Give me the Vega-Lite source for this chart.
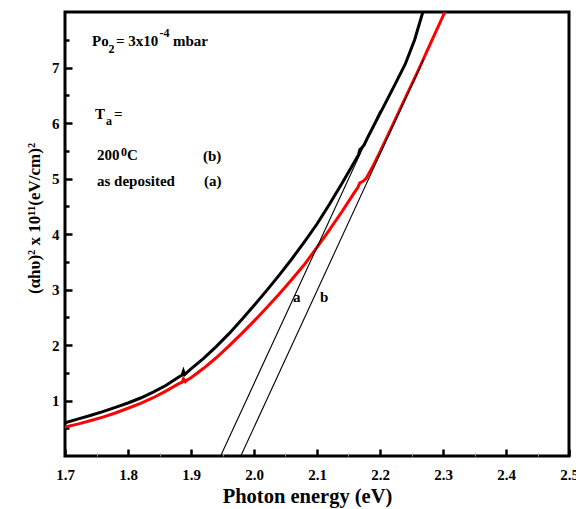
{
  "$schema": "https://vega.github.io/schema/vega-lite/v6.json",
  "width": 504,
  "height": 444,
  "autosize": {"type": "none"},
  "padding": {"left": 65, "top": 12, "right": 7, "bottom": 53},
  "config": {
    "view": {"stroke": "#000000", "strokeWidth": 3},
    "font": "Liberation Serif",
    "axis": {"grid": false, "domain": false, "tickColor": "#000000", "labelColor": "#000000", "titleColor": "#000000", "labelFont": "Liberation Serif", "titleFont": "Liberation Serif", "labelFontWeight": "bold", "titleFontWeight": "bold", "labelFlush": false, "labelOverlap": false, "labelBound": false},
    "axisBottom": {"labelFontSize": 15},
    "axisLeft": {"labelFontSize": 15}
  },
  "datasets": {
    "curves": [
      {"x": 1.70, "y": 0.52, "s": "a"}, {"x": 1.72, "y": 0.575, "s": "a"}, {"x": 1.74, "y": 0.635, "s": "a"}, {"x": 1.76, "y": 0.70, "s": "a"},
      {"x": 1.78, "y": 0.775, "s": "a"}, {"x": 1.80, "y": 0.86, "s": "a"}, {"x": 1.82, "y": 0.95, "s": "a"}, {"x": 1.84, "y": 1.05, "s": "a"},
      {"x": 1.86, "y": 1.17, "s": "a"}, {"x": 1.88, "y": 1.30, "s": "a"}, {"x": 1.886, "y": 1.33, "s": "a"}, {"x": 1.888, "y": 1.39, "s": "a"},
      {"x": 1.891, "y": 1.34, "s": "a"}, {"x": 1.894, "y": 1.37, "s": "a"}, {"x": 1.90, "y": 1.41, "s": "a"}, {"x": 1.92, "y": 1.58, "s": "a"},
      {"x": 1.94, "y": 1.77, "s": "a"}, {"x": 1.96, "y": 1.98, "s": "a"}, {"x": 1.98, "y": 2.20, "s": "a"}, {"x": 2.00, "y": 2.43, "s": "a"},
      {"x": 2.02, "y": 2.67, "s": "a"}, {"x": 2.04, "y": 2.92, "s": "a"}, {"x": 2.06, "y": 3.18, "s": "a"}, {"x": 2.08, "y": 3.45, "s": "a"},
      {"x": 2.10, "y": 3.76, "s": "a"}, {"x": 2.12, "y": 4.08, "s": "a"}, {"x": 2.14, "y": 4.41, "s": "a"}, {"x": 2.16, "y": 4.76, "s": "a"},
      {"x": 2.165, "y": 4.84, "s": "a"}, {"x": 2.168, "y": 4.92, "s": "a"}, {"x": 2.173, "y": 4.95, "s": "a"}, {"x": 2.178, "y": 5.00, "s": "a"},
      {"x": 2.19, "y": 5.25, "s": "a"}, {"x": 2.20, "y": 5.48, "s": "a"}, {"x": 2.22, "y": 5.96, "s": "a"}, {"x": 2.24, "y": 6.45, "s": "a"},
      {"x": 2.26, "y": 6.93, "s": "a"}, {"x": 2.28, "y": 7.43, "s": "a"}, {"x": 2.303, "y": 8.00, "s": "a"},
      {"x": 1.70, "y": 0.60, "s": "b"}, {"x": 1.72, "y": 0.665, "s": "b"}, {"x": 1.74, "y": 0.73, "s": "b"}, {"x": 1.76, "y": 0.80, "s": "b"},
      {"x": 1.78, "y": 0.875, "s": "b"}, {"x": 1.80, "y": 0.955, "s": "b"}, {"x": 1.82, "y": 1.045, "s": "b"}, {"x": 1.84, "y": 1.15, "s": "b"},
      {"x": 1.86, "y": 1.27, "s": "b"}, {"x": 1.88, "y": 1.42, "s": "b"}, {"x": 1.886, "y": 1.46, "s": "b"}, {"x": 1.888, "y": 1.53, "s": "b"},
      {"x": 1.890, "y": 1.47, "s": "b"}, {"x": 1.892, "y": 1.49, "s": "b"}, {"x": 1.90, "y": 1.57, "s": "b"}, {"x": 1.92, "y": 1.76, "s": "b"},
      {"x": 1.94, "y": 1.97, "s": "b"}, {"x": 1.96, "y": 2.20, "s": "b"}, {"x": 1.98, "y": 2.45, "s": "b"}, {"x": 2.00, "y": 2.71, "s": "b"},
      {"x": 2.02, "y": 2.98, "s": "b"}, {"x": 2.04, "y": 3.26, "s": "b"}, {"x": 2.06, "y": 3.55, "s": "b"}, {"x": 2.08, "y": 3.86, "s": "b"},
      {"x": 2.10, "y": 4.18, "s": "b"}, {"x": 2.12, "y": 4.54, "s": "b"}, {"x": 2.14, "y": 4.92, "s": "b"}, {"x": 2.16, "y": 5.31, "s": "b"},
      {"x": 2.166, "y": 5.43, "s": "b"}, {"x": 2.168, "y": 5.52, "s": "b"}, {"x": 2.171, "y": 5.55, "s": "b"}, {"x": 2.175, "y": 5.61, "s": "b"},
      {"x": 2.18, "y": 5.73, "s": "b"}, {"x": 2.20, "y": 6.17, "s": "b"}, {"x": 2.22, "y": 6.61, "s": "b"}, {"x": 2.24, "y": 7.06, "s": "b"},
      {"x": 2.255, "y": 7.50, "s": "b"}, {"x": 2.268, "y": 8.00, "s": "b"}
    ],
    "fits": [
      {"x": 1.947, "y": 0, "f": "a"}, {"x": 2.20, "y": 6.22, "f": "a"},
      {"x": 1.979, "y": 0, "f": "b"}, {"x": 2.27, "y": 7.16, "f": "b"}
    ],
    "notes": [
      {"x": 1.7429, "y": 7.379, "t": "Po", "r": "n"},
      {"x": 1.7690, "y": 7.253, "t": "2", "r": "s"},
      {"x": 1.7810, "y": 7.379, "t": "= 3x10", "r": "n"},
      {"x": 1.8500, "y": 7.558, "t": "-4", "r": "s"},
      {"x": 1.8714, "y": 7.379, "t": "mbar", "r": "n"},
      {"x": 1.7476, "y": 6.068, "t": "T", "r": "n"},
      {"x": 1.7651, "y": 5.961, "t": "a", "r": "s"},
      {"x": 1.7778, "y": 6.068, "t": "=", "r": "n"},
      {"x": 1.7508, "y": 5.332, "t": "200", "r": "n"},
      {"x": 1.7889, "y": 5.404, "t": "0", "r": "s"},
      {"x": 1.7984, "y": 5.332, "t": "C", "r": "n"},
      {"x": 1.9190, "y": 5.314, "t": "(b)", "r": "n"},
      {"x": 1.7508, "y": 4.865, "t": "as deposited", "r": "n"},
      {"x": 1.9206, "y": 4.865, "t": "(a)", "r": "n"},
      {"x": 2.0619, "y": 2.783, "t": "a", "r": "n"},
      {"x": 2.1048, "y": 2.783, "t": "b", "r": "n"}
    ]
  },
  "encoding": {
    "x": {"field": "x", "type": "quantitative",
          "scale": {"domain": [1.7, 2.5], "nice": false, "zero": false},
          "axis": {"orient": "bottom",
                   "values": [1.7, 1.75, 1.8, 1.85, 1.9, 1.95, 2.0, 2.05, 2.1, 2.15, 2.2, 2.25, 2.3, 2.35, 2.4, 2.45, 2.5],
                   "labelExpr": "abs(datum.value*10 - round(datum.value*10)) < 0.01 ? format(datum.value, '.1f') : ''",
                   "labelFontSize": 15,
                   "tickSize": {"condition": {"test": "abs(datum.value*10 - round(datum.value*10)) > 0.01", "value": -3}, "value": -7},
                   "tickWidth": {"condition": {"test": "abs(datum.value*10 - round(datum.value*10)) > 0.01", "value": 1}, "value": 2.5},
                   "tickColor": {"condition": {"test": "abs(datum.value*10 - round(datum.value*10)) > 0.01", "value": "#999999"}, "value": "#000000"},
                   "labelPadding": 18,
                   "title": "Photon energy (eV)", "titleFontSize": 20.5, "titleX": 242, "titleY": 46,
                   "titleAnchor": null, "titleAlign": "center", "titleBaseline": "alphabetic"}},
    "y": {"field": "y", "type": "quantitative",
          "scale": {"domain": [0, 8], "nice": false, "zero": false},
          "axis": {"orient": "left",
                   "values": [0.5, 1, 1.5, 2, 2.5, 3, 3.5, 4, 4.5, 5, 5.5, 6, 6.5, 7, 7.5],
                   "labelExpr": "datum.value % 1 === 0 ? format(datum.value, 'd') : ''",
                   "labelFontSize": 15,
                   "tickSize": {"condition": {"test": "datum.value % 1 !== 0", "value": -4}, "value": -7},
                   "tickWidth": 2.5,
                   "labelPadding": 13,
                   "title": "(αhυ)² x 10¹¹(eV/cm)²", "titleFontSize": 17, "titleX": -26, "titleY": 206,
                   "titleAngle": 270, "titleAlign": "center", "titleBaseline": "alphabetic"}}
  },
  "layer": [
    {
      "data": {"name": "curves"},
      "mark": {"type": "line", "strokeWidth": 3, "clip": true},
      "encoding": {
        "color": {"field": "s", "type": "nominal", "scale": {"domain": ["a", "b"], "range": ["#ff0000", "#000000"]}, "legend": null}
      }
    },
    {
      "data": {"name": "fits"},
      "mark": {"type": "line", "strokeWidth": 1.1, "color": "#000000", "clip": true},
      "encoding": {
        "detail": {"field": "f", "type": "nominal"}
      }
    },
    {
      "data": {"name": "notes"},
      "transform": [{"filter": "datum.r === 'n'"}],
      "mark": {"type": "text", "align": "left", "baseline": "alphabetic", "font": "Liberation Serif", "fontWeight": "bold", "fontSize": 15, "color": "#000000"},
      "encoding": {
        "text": {"field": "t"}
      }
    },
    {
      "data": {"name": "notes"},
      "transform": [{"filter": "datum.r === 's'"}],
      "mark": {"type": "text", "align": "left", "baseline": "alphabetic", "font": "Liberation Serif", "fontWeight": "bold", "fontSize": 12, "color": "#000000"},
      "encoding": {
        "text": {"field": "t"}
      }
    }
  ]
}
